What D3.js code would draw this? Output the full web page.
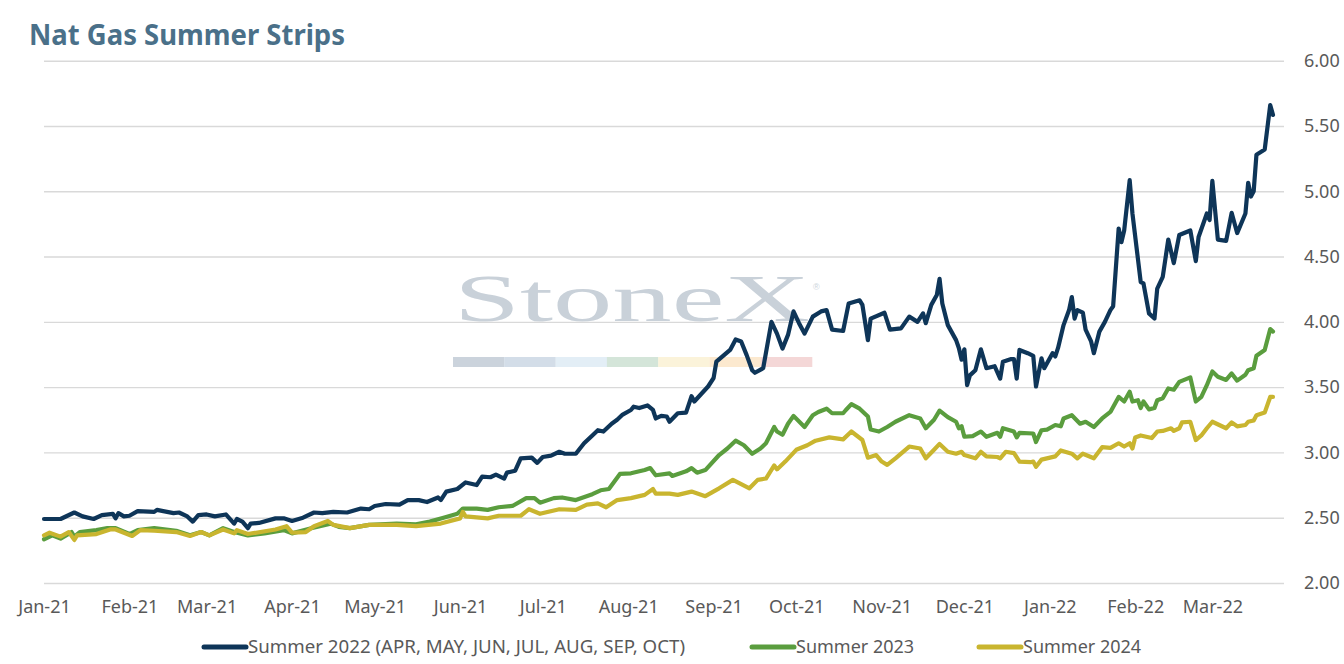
<!DOCTYPE html>
<html>
<head>
<meta charset="utf-8">
<script src="https://cdn.jsdelivr.net/npm/d3@7"></script>
<style>
  body { margin: 0; background: #ffffff; }
  svg { display: block; font-family: "Noto Sans", "Open Sans", sans-serif; }
</style>
</head>
<body>
<div id="chart"></div>
<script>
// Nat Gas summer strips - three strip prices, daily-ish readings

const chartTitle = "Nat Gas Summer Strips";
const yTickValues = [2.00, 2.50, 3.00, 3.50, 4.00, 4.50, 5.00, 5.50, 6.00];
const seriesNames = ["Summer 2022 (APR, MAY, JUN, JUL, AUG, SEP, OCT)", "Summer 2023", "Summer 2024"];

const summer2022 = [
  ["2021-01-04",2.49],["2021-01-10",2.49],["2021-01-15",2.54],["2021-01-18",2.51],["2021-01-22",2.49],["2021-01-25",2.52],["2021-01-29",2.53],["2021-01-30",2.495],["2021-01-31",2.535],
  ["2021-02-02",2.51],["2021-02-04",2.515],["2021-02-07",2.55],["2021-02-13",2.545],["2021-02-14",2.56],["2021-02-20",2.535],["2021-02-22",2.54],["2021-02-25",2.51],["2021-02-27",2.47],
  ["2021-03-01",2.52],["2021-03-04",2.525],["2021-03-07",2.51],["2021-03-11",2.525],["2021-03-14",2.455],["2021-03-15",2.49],["2021-03-17",2.47],["2021-03-19",2.42],["2021-03-20",2.455],["2021-03-23",2.46],["2021-03-29",2.495],
  ["2021-04-01",2.495],["2021-04-04",2.475],["2021-04-08",2.50],["2021-04-12",2.54],["2021-04-15",2.535],["2021-04-19",2.545],["2021-04-24",2.54],["2021-04-29",2.57],
  ["2021-05-02",2.565],["2021-05-04",2.59],["2021-05-08",2.605],["2021-05-13",2.60],["2021-05-16",2.635],["2021-05-20",2.635],["2021-05-23",2.62],["2021-05-27",2.655],["2021-05-28",2.635],["2021-05-30",2.70],
  ["2021-06-03",2.72],["2021-06-06",2.77],["2021-06-10",2.75],["2021-06-12",2.815],["2021-06-15",2.81],["2021-06-17",2.83],["2021-06-20",2.80],["2021-06-21",2.845],["2021-06-24",2.86],["2021-06-26",2.955],["2021-06-30",2.96],
  ["2021-07-02",2.92],["2021-07-04",2.965],["2021-07-07",2.975],["2021-07-10",3.005],["2021-07-12",2.99],["2021-07-16",2.99],["2021-07-19",3.07],["2021-07-22",3.13],["2021-07-24",3.17],["2021-07-26",3.16],["2021-07-29",3.22],["2021-07-31",3.25],
  ["2021-08-02",3.29],["2021-08-05",3.325],["2021-08-06",3.35],["2021-08-08",3.34],["2021-08-11",3.36],["2021-08-13",3.325],["2021-08-14",3.26],["2021-08-16",3.28],["2021-08-18",3.275],["2021-08-19",3.235],["2021-08-22",3.30],["2021-08-25",3.305],["2021-08-27",3.43],["2021-08-28",3.39],
  ["2021-09-02",3.505],["2021-09-04",3.57],["2021-09-05",3.695],["2021-09-10",3.785],["2021-09-12",3.865],["2021-09-14",3.85],["2021-09-16",3.745],["2021-09-18",3.63],["2021-09-19",3.61],["2021-09-22",3.645],["2021-09-25",4.00],["2021-09-27",3.91],["2021-09-29",3.795],
  ["2021-10-01",3.90],["2021-10-03",4.08],["2021-10-05",3.99],["2021-10-07",3.91],["2021-10-10",4.04],["2021-10-13",4.08],["2021-10-15",4.09],["2021-10-17",3.94],["2021-10-21",3.93],["2021-10-23",4.14],["2021-10-27",4.165],["2021-10-28",4.13],["2021-10-30",3.86],["2021-10-31",4.025],
  ["2021-11-05",4.07],["2021-11-07",3.94],["2021-11-11",3.95],["2021-11-14",4.04],["2021-11-17",4.00],["2021-11-19",4.065],["2021-11-20",3.99],["2021-11-22",4.13],["2021-11-24",4.205],["2021-11-25",4.33],["2021-11-26",4.14],["2021-11-28",3.975],
  ["2021-12-01",3.86],["2021-12-02",3.80],["2021-12-03",3.71],["2021-12-04",3.79],["2021-12-05",3.515],["2021-12-06",3.59],["2021-12-08",3.63],["2021-12-10",3.79],["2021-12-12",3.645],["2021-12-15",3.66],["2021-12-17",3.565],["2021-12-18",3.695],["2021-12-21",3.715],["2021-12-22",3.715],["2021-12-23",3.565],["2021-12-24",3.785],["2021-12-27",3.76],["2021-12-29",3.74],["2021-12-30",3.505],
  ["2022-01-01",3.72],["2022-01-02",3.645],["2022-01-05",3.76],["2022-01-06",3.735],["2022-01-07",3.80],["2022-01-09",3.975],["2022-01-11",4.09],["2022-01-12",4.19],["2022-01-13",4.025],["2022-01-14",4.09],["2022-01-16",4.07],["2022-01-17",3.94],["2022-01-19",3.85],["2022-01-20",3.76],["2022-01-22",3.925],["2022-01-24",4.00],["2022-01-26",4.09],["2022-01-27",4.12],["2022-01-29",4.715],["2022-01-30",4.61],["2022-01-31",4.70],
  ["2022-02-02",5.085],["2022-02-03",4.83],["2022-02-06",4.305],["2022-02-07",4.295],["2022-02-09",4.065],["2022-02-11",4.025],["2022-02-12",4.255],["2022-02-14",4.345],["2022-02-16",4.63],["2022-02-18",4.45],["2022-02-20",4.665],["2022-02-24",4.70],["2022-02-26",4.465],["2022-02-27",4.65],
  ["2022-03-02",4.83],["2022-03-03",4.78],["2022-03-04",5.08],["2022-03-06",4.63],["2022-03-09",4.62],["2022-03-11",4.835],["2022-03-13",4.68],["2022-03-16",4.83],["2022-03-17",5.065],["2022-03-18",4.96],["2022-03-19",5.00],["2022-03-20",5.28],["2022-03-23",5.32],["2022-03-25",5.66],["2022-03-26",5.585]
];

const summer2023 = [
  ["2021-01-04",2.335],["2021-01-07",2.365],["2021-01-10",2.34],["2021-01-14",2.39],["2021-01-15",2.355],["2021-01-17",2.39],["2021-01-23",2.405],["2021-01-27",2.42],["2021-01-30",2.42],
  ["2021-02-04",2.375],["2021-02-07",2.405],["2021-02-13",2.42],["2021-02-21",2.40],["2021-02-26",2.365],
  ["2021-03-02",2.39],["2021-03-05",2.365],["2021-03-10",2.42],["2021-03-14",2.39],["2021-03-19",2.365],["2021-03-25",2.38],
  ["2021-04-01",2.405],["2021-04-04",2.38],["2021-04-11",2.42],["2021-04-18",2.455],["2021-04-21",2.43],["2021-04-25",2.42],
  ["2021-05-02",2.445],["2021-05-12",2.455],["2021-05-19",2.45],["2021-05-24",2.47],["2021-05-29",2.50],
  ["2021-06-03",2.53],["2021-06-05",2.57],["2021-06-10",2.57],["2021-06-14",2.56],["2021-06-18",2.58],["2021-06-23",2.59],["2021-06-28",2.65],
  ["2021-07-01",2.65],["2021-07-03",2.615],["2021-07-08",2.65],["2021-07-11",2.655],["2021-07-16",2.635],["2021-07-22",2.68],["2021-07-25",2.71],["2021-07-28",2.72],
  ["2021-08-01",2.835],["2021-08-05",2.84],["2021-08-10",2.865],["2021-08-12",2.88],["2021-08-14",2.825],["2021-08-19",2.84],["2021-08-20",2.82],["2021-08-25",2.855],["2021-08-27",2.88],["2021-08-29",2.845],
  ["2021-09-01",2.865],["2021-09-06",2.98],["2021-09-09",3.03],["2021-09-12",3.09],["2021-09-15",3.055],["2021-09-18",2.99],["2021-09-21",3.03],["2021-09-23",3.07],["2021-09-26",3.195],["2021-09-27",3.16],["2021-09-29",3.135],
  ["2021-10-01",3.22],["2021-10-03",3.28],["2021-10-07",3.195],["2021-10-10",3.285],["2021-10-12",3.31],["2021-10-15",3.335],["2021-10-17",3.30],["2021-10-21",3.30],["2021-10-22",3.325],["2021-10-24",3.37],["2021-10-27",3.335],["2021-10-30",3.275],["2021-10-31",3.175],
  ["2021-11-03",3.16],["2021-11-06",3.195],["2021-11-09",3.235],["2021-11-14",3.285],["2021-11-18",3.26],["2021-11-20",3.185],["2021-11-23",3.25],["2021-11-25",3.32],["2021-11-28",3.27],
  ["2021-12-01",3.235],["2021-12-02",3.185],["2021-12-03",3.20],["2021-12-04",3.12],["2021-12-07",3.125],["2021-12-10",3.16],["2021-12-12",3.12],["2021-12-16",3.15],["2021-12-17",3.12],["2021-12-18",3.185],["2021-12-22",3.16],["2021-12-23",3.115],["2021-12-24",3.15],["2021-12-29",3.145],["2021-12-30",3.08],
  ["2022-01-01",3.17],["2022-01-03",3.175],["2022-01-06",3.21],["2022-01-08",3.20],["2022-01-09",3.26],["2022-01-12",3.285],["2022-01-15",3.22],["2022-01-17",3.235],["2022-01-20",3.195],["2022-01-23",3.26],["2022-01-26",3.31],["2022-01-29",3.425],["2022-01-31",3.39],
  ["2022-02-02",3.465],["2022-02-03",3.39],["2022-02-05",3.40],["2022-02-06",3.34],["2022-02-07",3.39],["2022-02-09",3.33],["2022-02-11",3.34],["2022-02-12",3.40],["2022-02-14",3.415],["2022-02-16",3.49],["2022-02-18",3.48],["2022-02-20",3.54],["2022-02-24",3.575],["2022-02-26",3.39],["2022-02-28",3.425],
  ["2022-03-02",3.515],["2022-03-04",3.62],["2022-03-06",3.58],["2022-03-09",3.555],["2022-03-11",3.605],["2022-03-13",3.55],["2022-03-16",3.595],["2022-03-17",3.63],["2022-03-19",3.645],["2022-03-20",3.74],["2022-03-23",3.785],["2022-03-25",3.945],["2022-03-26",3.925]
];

const summer2024 = [
  ["2021-01-04",2.365],["2021-01-06",2.385],["2021-01-10",2.355],["2021-01-13",2.39],["2021-01-15",2.33],["2021-01-16",2.365],["2021-01-23",2.375],["2021-01-28",2.41],["2021-01-30",2.41],
  ["2021-02-05",2.36],["2021-02-08",2.405],["2021-02-13",2.40],["2021-02-21",2.39],["2021-02-26",2.36],
  ["2021-03-02",2.39],["2021-03-05",2.365],["2021-03-10",2.41],["2021-03-14",2.38],["2021-03-15",2.405],["2021-03-19",2.375],["2021-03-29",2.41],
  ["2021-04-02",2.435],["2021-04-04",2.385],["2021-04-09",2.39],["2021-04-12",2.435],["2021-04-17",2.475],["2021-04-19",2.445],["2021-04-25",2.42],
  ["2021-05-02",2.445],["2021-05-12",2.445],["2021-05-19",2.435],["2021-05-28",2.455],
  ["2021-06-04",2.495],["2021-06-05",2.545],["2021-06-06",2.51],["2021-06-14",2.495],["2021-06-18",2.515],["2021-06-26",2.515],["2021-06-29",2.565],
  ["2021-07-03",2.53],["2021-07-10",2.565],["2021-07-16",2.56],["2021-07-20",2.60],["2021-07-24",2.61],["2021-07-27",2.58],["2021-07-31",2.635],
  ["2021-08-05",2.65],["2021-08-10",2.675],["2021-08-13",2.72],["2021-08-14",2.685],["2021-08-19",2.685],["2021-08-22",2.675],["2021-08-27",2.70],
  ["2021-09-01",2.665],["2021-09-06",2.725],["2021-09-11",2.79],["2021-09-17",2.725],["2021-09-20",2.79],["2021-09-23",2.80],["2021-09-26",2.90],["2021-09-27",2.87],["2021-09-30",2.93],
  ["2021-10-04",3.02],["2021-10-08",3.055],["2021-10-11",3.09],["2021-10-16",3.115],["2021-10-21",3.10],["2021-10-24",3.16],["2021-10-28",3.095],["2021-10-30",2.96],
  ["2021-11-02",2.98],["2021-11-04",2.93],["2021-11-06",2.905],["2021-11-09",2.955],["2021-11-14",3.045],["2021-11-18",3.03],["2021-11-20",2.955],["2021-11-23",3.02],["2021-11-25",3.065],["2021-11-28",3.005],
  ["2021-12-01",2.99],["2021-12-03",3.005],["2021-12-04",2.98],["2021-12-08",2.955],["2021-12-10",3.005],["2021-12-12",2.97],["2021-12-16",2.965],["2021-12-17",2.955],["2021-12-19",3.005],["2021-12-22",2.995],["2021-12-24",2.93],["2021-12-28",2.925],["2021-12-29",2.93],["2021-12-30",2.89],
  ["2022-01-01",2.945],["2022-01-06",2.97],["2022-01-08",3.015],["2022-01-12",2.99],["2022-01-14",2.955],["2022-01-16",2.99],["2022-01-20",2.955],["2022-01-23",3.04],["2022-01-26",3.035],["2022-01-29",3.07],["2022-01-31",3.045],
  ["2022-02-02",3.07],["2022-02-03",3.03],["2022-02-04",3.115],["2022-02-06",3.13],["2022-02-10",3.11],["2022-02-12",3.16],["2022-02-14",3.165],["2022-02-17",3.185],["2022-02-18",3.165],["2022-02-20",3.185],["2022-02-21",3.23],["2022-02-24",3.235],["2022-02-26",3.095],["2022-02-28",3.13],
  ["2022-03-02",3.185],["2022-03-04",3.235],["2022-03-09",3.185],["2022-03-11",3.23],["2022-03-13",3.20],["2022-03-16",3.21],["2022-03-17",3.235],["2022-03-19",3.245],["2022-03-20",3.285],["2022-03-23",3.305],["2022-03-25",3.425],["2022-03-26",3.425]
];

const seriesColors = ["#0e3558", "#5a9d3e", "#c9b52f"];

const width = 1344, height = 664;
const plot = { left: 44, right: 1284, top: 60.7, bottom: 583 };

const parse = d3.timeParse("%Y-%m-%d");
const fmtMonth = d3.timeFormat("%b-%y");

const svg = d3.select("#chart").append("svg")
    .attr("width", width)
    .attr("height", height);

// Scales: axis begins on the first trading day, month labels fall on the 4th
const x = d3.scaleTime()
    .domain([parse("2021-01-04"), parse("2022-03-30")])
    .range([plot.left, plot.right]);

const y = d3.scaleLinear()
    .domain([2, 6])
    .range([plot.bottom, plot.top]);

const monthTicks = d3.timeMonth.range(parse("2021-01-01"), parse("2022-03-02"))
    .map(d => d3.timeDay.offset(d, 3));

// Watermark
const wm = svg.append("g").attr("class", "watermark");
wm.append("text")
    .attr("x", 454)
    .attr("y", 321)
    .attr("textLength", 356)
    .attr("lengthAdjust", "spacingAndGlyphs")
    .style("font-family", "'Liberation Serif', 'DejaVu Serif', serif")
    .style("font-size", "67px")
    .style("fill", "#c9d1d9")
    .text("StoneX");
wm.append("text")
    .attr("x", 813)
    .attr("y", 290)
    .style("font-family", "'Liberation Sans', sans-serif")
    .style("font-size", "9px")
    .style("fill", "#cdd4db")
    .text("®");
const wmBand = ["#cbd3dc", "#d3dde8", "#e3eef6", "#d4e5d9", "#fbf3da", "#fce9cf", "#f4d7d7"];
wm.selectAll("rect")
    .data(wmBand)
    .enter().append("rect")
    .attr("x", (d, i) => 453 + i * 51.3)
    .attr("y", 357)
    .attr("width", 51.5)
    .attr("height", 10)
    .style("fill", d => d);

// Y axis on the right with gridlines
const yAxis = svg.append("g")
    .attr("transform", `translate(${plot.right},0)`)
    .call(d3.axisRight(y)
        .tickValues(yTickValues)
        .tickSize(-(plot.right - plot.left))
        .tickPadding(20)
        .tickFormat(d3.format(".2f")));
yAxis.select(".domain").remove();
yAxis.selectAll(".tick line")
    .style("stroke", "#d9d9d9")
    .style("stroke-width", 1.4);
yAxis.selectAll(".tick text")
    .style("fill", "#595959")
    .style("font-size", "18px")
    .style("font-family", "'Noto Sans', sans-serif");

// X axis, labels only
const xAxis = svg.append("g")
    .attr("transform", `translate(0,${plot.bottom})`)
    .call(d3.axisBottom(x)
        .tickValues(monthTicks)
        .tickSize(0)
        .tickPadding(17)
        .tickFormat(fmtMonth));
xAxis.select(".domain").remove();
xAxis.selectAll(".tick text")
    .style("fill", "#595959")
    .style("font-size", "18px")
    .style("font-family", "'Noto Sans', sans-serif");

// Lines
const line = d3.line()
    .x(d => x(parse(d[0])))
    .y(d => y(d[1]));

const allSeries = [summer2022, summer2023, summer2024];
svg.append("g")
    .selectAll("path")
    .data(allSeries)
    .enter().append("path")
    .attr("d", line)
    .style("fill", "none")
    .style("stroke", (d, i) => seriesColors[i])
    .style("stroke-width", 4.2)
    .style("stroke-linejoin", "round")
    .style("stroke-linecap", "round");

// Title
svg.append("text")
    .attr("x", 29)
    .attr("y", 45)
    .attr("textLength", 316)
    .attr("lengthAdjust", "spacingAndGlyphs")
    .style("font-family", "'Noto Sans', sans-serif")
    .style("font-weight", "bold")
    .style("font-size", "29px")
    .style("fill", "#4a7089")
    .text(chartTitle);

// Legend
const legendX = [202, 750, 977];
const legend = svg.append("g")
    .selectAll("g")
    .data(seriesNames)
    .enter().append("g")
    .attr("transform", (d, i) => `translate(${legendX[i]},647)`);
legend.append("line")
    .attr("x1", 2).attr("x2", 44)
    .attr("y1", 0).attr("y2", 0)
    .style("stroke", (d, i) => seriesColors[i])
    .style("stroke-width", 5)
    .style("stroke-linecap", "round");
legend.append("text")
    .attr("x", 46)
    .attr("dy", "0.36em")
    .attr("textLength", (d, i) => i === 0 ? 437 : null)
    .attr("lengthAdjust", "spacingAndGlyphs")
    .style("fill", "#595959")
    .style("font-size", "18px")
    .style("font-family", "'Noto Sans', sans-serif")
    .text(d => d);
</script>
</body>
</html>
